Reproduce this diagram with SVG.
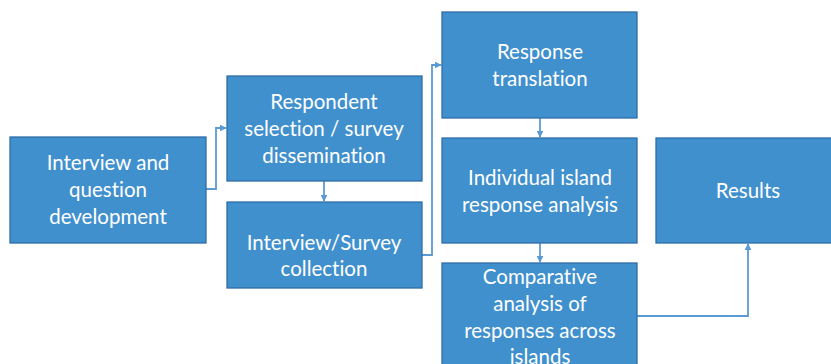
<svg xmlns="http://www.w3.org/2000/svg" width="831" height="364" viewBox="0 0 831 364">
<style>
.box{fill:#4190ce;stroke:#2f6ea5;stroke-width:1.3}
.t{font-family:Lato,"Liberation Sans",sans-serif;font-size:20.5px;fill:#ffffff;text-anchor:middle;font-variant-ligatures:none}
.c{fill:none;stroke:#5b9bd5;stroke-width:1.8}
</style>
<defs>
<marker id="ah" viewBox="0 0 10 10" refX="9" refY="5" markerWidth="7" markerHeight="7" orient="auto" markerUnits="userSpaceOnUse">
<path d="M0,0 L10,5 L0,10 z" fill="#5b9bd5"/>
</marker>
</defs>
<rect width="831" height="364" fill="#ffffff"/>
<g id="connectors">
<path class="c" d="M206,189 H216 V128 H226" marker-end="url(#ah)"/>
<path class="c" d="M324,181 V201" marker-end="url(#ah)"/>
<path class="c" d="M422,255 H432 V65 H441" marker-end="url(#ah)"/>
<path class="c" d="M540,118 V137" marker-end="url(#ah)"/>
<path class="c" d="M540,243 V262" marker-end="url(#ah)"/>
<path class="c" d="M637,316 H748 V244" marker-end="url(#ah)"/>
</g>
<g id="n1"><rect class="box" x="10" y="137" width="196" height="106"/>
<text class="t" x="108" y="170">Interview and</text><text class="t" x="108" y="197">question</text><text class="t" x="108" y="224">development</text></g>
<g id="n2"><rect class="box" x="227" y="76" width="195" height="105"/>
<text class="t" x="324" y="109">Respondent</text><text class="t" x="324" y="136">selection / survey</text><text class="t" x="324" y="163">dissemination</text></g>
<g id="n3"><rect class="box" x="227" y="202" width="195" height="86"/>
<text class="t" x="324" y="250">Interview/Survey</text><text class="t" x="324" y="276">collection</text></g>
<g id="n4"><rect class="box" x="442" y="12" width="195" height="106"/>
<text class="t" x="540" y="59">Response</text><text class="t" x="540" y="86">translation</text></g>
<g id="n5"><rect class="box" x="442" y="138" width="195" height="105"/>
<text class="t" x="540" y="185">Individual island</text><text class="t" x="540" y="212">response analysis</text></g>
<g id="n6"><rect class="box" x="442" y="263" width="195" height="110"/>
<text class="t" x="540" y="284">Comparative</text><text class="t" x="540" y="311">analysis of</text><text class="t" x="540" y="338">responses across</text><text class="t" x="540" y="364">islands</text></g>
<g id="n7"><rect class="box" x="656" y="138" width="180" height="105"/>
<text class="t" x="748" y="198">Results</text></g>
</svg>
